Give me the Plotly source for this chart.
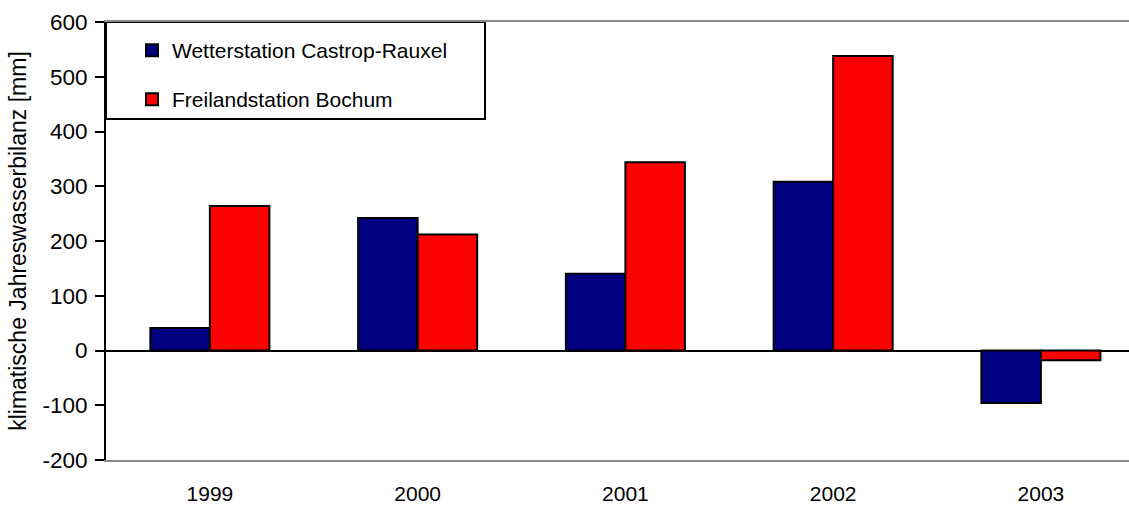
import plotly.graph_objects as go

years = ["1999", "2000", "2001", "2002", "2003"]
castrop = [41, 242, 140, 308, -96]
bochum = [264, 212, 344, 538, -18]
series_names = ["Wetterstation Castrop-Rauxel", "Freilandstation Bochum"]
y_ticks = [-200, -100, 0, 100, 200, 300, 400, 500, 600]
y_tick_text = ["-200", "-100", "0", "100", "200", "300", "400", "500", "600"]

FONT = "Liberation Sans, Arial, sans-serif"
PLOT_W = 1129 - 106
PLOT_H = 506 - 22 - 46

fig = go.Figure()
fig.add_trace(go.Bar(x=years, y=castrop, name=series_names[0],
                     marker=dict(color="#000080", line=dict(color="black", width=2)),
                     legend="legend"))
fig.add_trace(go.Bar(x=years, y=bochum, name=series_names[1],
                     marker=dict(color="#FF0000", line=dict(color="black", width=2)),
                     legend="legend2"))

fig.update_layout(
    width=1129, height=506,
    margin=dict(l=106, r=0, t=22, b=46, autoexpand=False),
    paper_bgcolor="white", plot_bgcolor="white",
    barmode="group", bargap=0.427, bargroupgap=0,
    font=dict(family=FONT, size=21, color="black"),
    showlegend=True,
    legend=dict(x=(132 - 106) / PLOT_W, y=(460 - 50.5) / PLOT_H, xanchor="left", yanchor="middle",
                bgcolor="rgba(0,0,0,0)", borderwidth=0, font=dict(size=21)),
    legend2=dict(x=(132 - 106) / PLOT_W, y=(460 - 99.5) / PLOT_H, xanchor="left", yanchor="middle",
                 bgcolor="rgba(0,0,0,0)", borderwidth=0, font=dict(size=21)),
    shapes=[dict(type="rect", xref="paper", yref="paper",
                 x0=0.0, x1=(485 - 106) / PLOT_W, y0=(460 - 119) / PLOT_H, y1=1.0,
                 line=dict(color="black", width=2), fillcolor="white", layer="below")],
)

fig.update_xaxes(
    type="category", range=[-0.5, 4.424], automargin=False,
    showline=True, linecolor="#8c8c8c", linewidth=2, mirror=True,
    showgrid=False, ticks="", ticklabelstandoff=14,
    tickfont=dict(size=21),
)
fig.update_yaxes(
    range=[-200, 600], tickvals=y_ticks, ticktext=y_tick_text, automargin=False,
    showline=True, linecolor="black", linewidth=2,
    ticks="outside", ticklen=9, tickwidth=2, tickcolor="black", ticklabelstandoff=3,
    showgrid=False, zeroline=True, zerolinecolor="black", zerolinewidth=1.5,
    tickfont=dict(size=22.5),
    title=dict(text="klimatische Jahreswasserbilanz [mm]", font=dict(size=23), standoff=9),
)

fig.write_html("out.html")
